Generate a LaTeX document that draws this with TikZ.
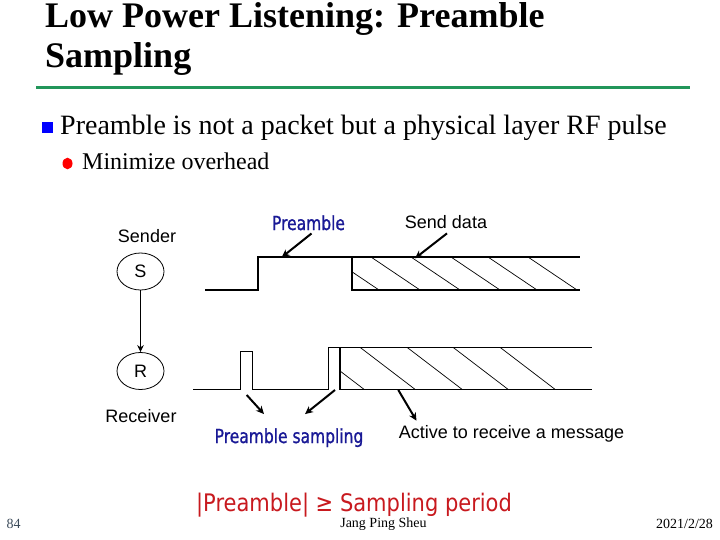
\documentclass[tikz,border=0pt]{standalone}
\usepackage{fontspec}
\setmainfont{Liberation Serif}
\newfontfamily\arialf{Liberation Sans}
\newfontfamily\comicf{DejaVu Sans}
\newfontfamily\comicmed[FakeBold=1.2]{DejaVu Sans}
\usetikzlibrary{shapes.geometric,arrows.meta}
\definecolor{titlegreen}{RGB}{34,150,90}
\definecolor{lblblue}{RGB}{25,25,150}
\definecolor{eqred}{RGB}{200,25,30}
\definecolor{pagegray}{RGB}{60,75,90}
\tikzset{
  wave/.style={line width=1.1pt},
  hatch/.style={line width=0.7pt},
  arr/.style={line width=2pt,-{Stealth[length=8pt,width=7.5pt]}},
  sans/.style={font=\arialf\fontsize{18}{20}\selectfont},
  bluelbl/.style={font=\comicmed\fontsize{15.5}{18}\selectfont, text=lblblue, inner sep=0pt},
  station/.style={ellipse, draw, line width=0.8pt, minimum width=47pt, minimum height=37pt, inner sep=0pt, font=\arialf\fontsize{18}{20}\selectfont},
  foot/.style={font=\fontsize{14}{16}\selectfont, inner sep=0pt, anchor=base}
}
\begin{document}
\begin{tikzpicture}[x=1pt,y=-1pt]
\useasboundingbox (0,0) rectangle (720,540);
\fill[white] (0,0) rectangle (720,540);
% title
\node[anchor=base west, inner sep=0pt, font=\bfseries\fontsize{36}{40}\selectfont] (t1) at (45,28) {Low Power Listening: Preamble};
\node[anchor=base west, inner sep=0pt, font=\bfseries\fontsize{36}{40}\selectfont] (t2) at (45,68) {Sampling};
\draw[titlegreen, line width=3pt] (36,88) -- (690,88);
% bullets
\fill[blue] (42,122) rectangle (53,133);
\node[anchor=base west, inner sep=0pt, font=\fontsize{28}{30}\selectfont] (b1) at (60,135) {Preamble is not a packet but a physical layer RF pulse};
\fill[red] (67.5,163.5) ellipse (5 and 5.8);
\node[anchor=base west, inner sep=0pt, font=\fontsize{24}{26}\selectfont] (b2) at (82,170) {Minimize overhead};
% stations
\node[sans, anchor=base, inner sep=0pt] (snd) at (147,243) {Sender};
\node[station] (S) at (140.5,271.5) {S};
\node[station] (R) at (140.5,371) {R};
\node[sans, anchor=base, inner sep=0pt] (rcv) at (141,422) {Receiver};
\draw[line width=1.6pt,-{Stealth[length=7pt,width=6.5pt]}] (S.south) -- (R.north);
% sender waveform
\draw[wave] (205,290) -- (258,290) -- (258,257) -- (580,257);
\draw[wave] (352,257) -- (352,290) -- (580,290);
\begin{scope}
\clip (352,257) rectangle (580,290);
\foreach \a in {330,371,411,451,488,528}
  \draw[hatch] (\a,257) -- (\a+49,290);
\end{scope}
% receiver waveform
\draw[wave] (193,389.3) -- (240.7,389.3) -- (240.7,351.7) -- (252.3,351.7) -- (252.3,389.3) -- (328.7,389.3) -- (328.7,347.3) -- (591.7,347.3);
\draw[wave] (340,347.3) -- (340,389.3) -- (591.7,389.3);
\begin{scope}
\clip (340,347.3) rectangle (591.7,389.3);
\foreach \a in {309,360,407,453,500}
  \draw[hatch] (\a,347.3) -- (\a+55,389.3);
\end{scope}
% labels and arrows
\node[bluelbl, anchor=base] (pre) at (308.5,230) {\scalebox{1}[1.25]{Preamble}};
\coordinate (preTip) at (281.7,257.3);
\draw[arr] ([xshift=3pt,yshift=-3pt]pre.south) -- (preTip);
\node[sans, anchor=base, inner sep=0pt] (sd) at (446,229) {Send data};
\coordinate (sdTip) at (415,258.3);
\draw[arr] ([xshift=1pt,yshift=-4pt]sd.south) -- (sdTip);
\node[bluelbl, anchor=base] (ps) at (289,443) {\scalebox{1}[1.25]{Preamble sampling}};
\coordinate (psTailA) at (246.7,395);
\coordinate (psTailB) at (335,390);
\draw[arr] (psTailA) -- ([xshift=-25pt,yshift=14pt]ps.north);
\draw[arr] (psTailB) -- ([xshift=16pt,yshift=14pt]ps.north);
\node[sans, anchor=base, inner sep=0pt] (act) at (511.5,438) {Active to receive a message};
\coordinate (actTail) at (398.3,390);
\draw[arr] (actTail) -- ([xshift=-95pt,yshift=4pt]act.north);
% bottom
\node[anchor=base, inner sep=0pt, text=eqred, font=\comicf\fontsize{21}{24}\selectfont] (eq) at (354,511) {\scalebox{1}[1.15]{|Preamble| ≥ Sampling period}};
\node[foot] (auth) at (383.5,527) {Jang Ping Sheu};
\node[foot, text=pagegray] (pg) at (13.5,528) {84};
\node[foot] (dt) at (684.5,528) {2021/2/28};
\end{tikzpicture}
\end{document}
